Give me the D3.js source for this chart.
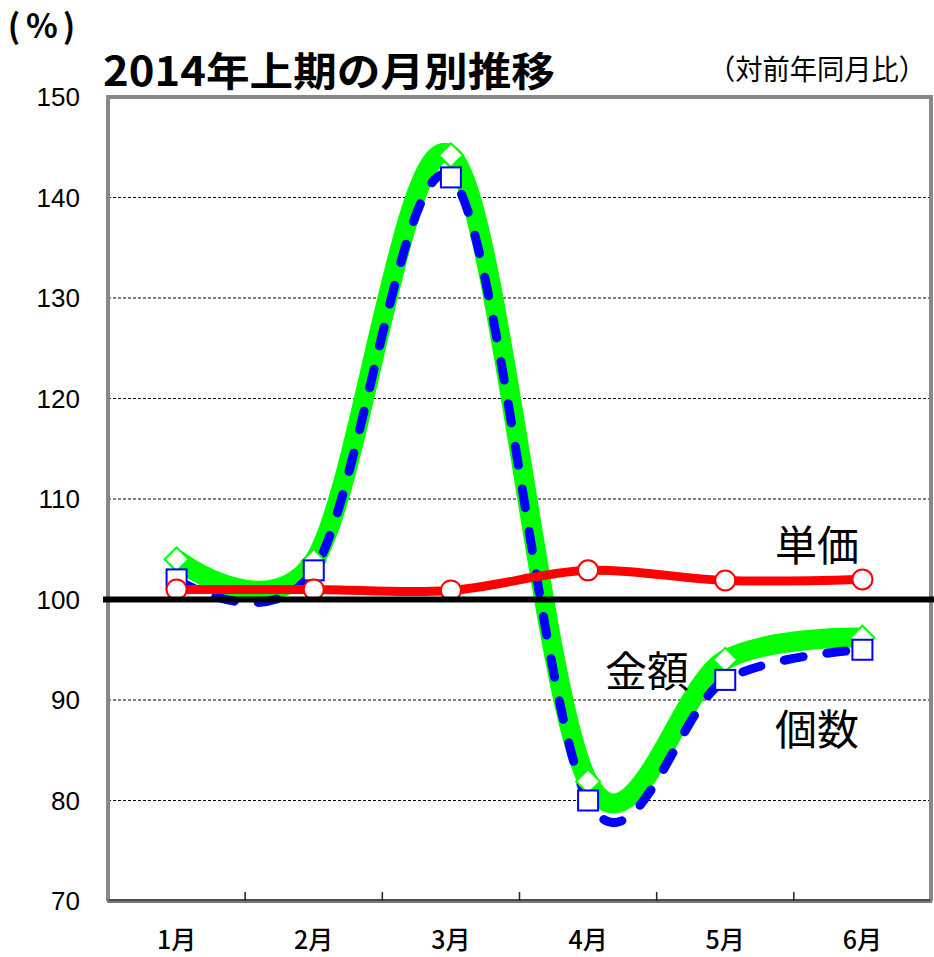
<!DOCTYPE html>
<html>
<head>
<meta charset="utf-8">
<script src="https://cdn.jsdelivr.net/npm/d3@7"></script>
<style>
  body { margin: 0; background: #fff; }
  text { font-family: "Noto Sans CJK JP", sans-serif; }
</style>
</head>
<body>
<div id="chart"></div>
<script>
// data
var months = ["1月", "2月", "3月", "4月", "5月", "6月"];
var kingaku = [104, 103.8, 144.2, 81.9, 94, 96.2];   // 金額 (green)
var kosuu   = [102, 102.9, 142, 80, 92, 95];         // 個数 (blue dashed)
var tanka   = [101, 101, 100.9, 102.9, 101.9, 102];  // 単価 (red)
var yTicks  = [70, 80, 90, 100, 110, 120, 130, 140, 150];

var width = 934, height = 957;
var plotL = 108, plotR = 931, plotT = 97, plotB = 901;

var svg = d3.select("#chart").append("svg")
    .attr("width", width)
    .attr("height", height);

var x = d3.scaleBand().domain(months).range([plotL, plotR]);
var y = d3.scaleLinear().domain([70, 150]).range([plotB, plotT]);
var cx = function(i) { return x(months[i]) + x.bandwidth() / 2; };

// grid lines
svg.selectAll(".grid")
    .data(yTicks.filter(function(d) { return d != 70 && d != 150 && d != 100; }))
    .enter().append("line")
    .attr("x1", plotL).attr("x2", plotR)
    .attr("y1", d => y(d)).attr("y2", d => y(d))
    .attr("stroke", "#000")
    .attr("stroke-width", 1)
    .attr("stroke-dasharray", "3,2");

// frame
svg.append("path")
    .attr("d", "M" + plotL + "," + plotB + "V" + plotT + "H" + plotR + "V" + plotB)
    .attr("fill", "none")
    .attr("stroke", "#888")
    .attr("stroke-width", 4);
svg.append("line")
    .attr("x1", plotL - 1).attr("x2", plotR + 1)
    .attr("y1", plotB).attr("y2", plotB)
    .attr("stroke", "#777").attr("stroke-width", 4);
svg.append("line")
    .attr("x1", plotL + 1).attr("x2", plotR - 1)
    .attr("y1", plotB - 1).attr("y2", plotB - 1)
    .attr("stroke", "#222").attr("stroke-width", 1);

// x tick marks (between categories)
svg.selectAll(".xtick")
    .data(months.slice(1))
    .enter().append("line")
    .attr("x1", d => x(d)).attr("x2", d => x(d))
    .attr("y1", plotB - 9).attr("y2", plotB)
    .attr("stroke", "#222").attr("stroke-width", 1.5);

// y tick labels
svg.selectAll(".ylab")
    .data(yTicks)
    .enter().append("text")
    .attr("x", 80)
    .attr("y", d => y(d))
    .attr("dy", "0.36em")
    .attr("text-anchor", "end")
    .style("font-family", "'Liberation Sans Narrow', 'Liberation Sans', sans-serif")
    .style("font-size", "26px")
    .text(d => d);

// x labels
svg.selectAll(".xlab")
    .data(months)
    .enter().append("text")
    .attr("x", d => x(d) + x.bandwidth() / 2)
    .attr("y", 949)
    .attr("text-anchor", "middle")
    .style("font-size", "25px")
    .style("font-weight", 500)
    .text(d => d);

var line = d3.line()
    .x(function(d, i) { return cx(i); })
    .y(function(d) { return y(d); })
    .curve(d3.curveCardinal.tension(0));

svg.append("path")
    .attr("d", line(kingaku))
    .attr("fill", "none")
    .attr("stroke", "#00ff00")
    .attr("stroke-width", 20)
    .attr("stroke-linejoin", "round");

svg.append("path")
    .attr("d", line(kosuu))
    .attr("fill", "none")
    .attr("stroke", "#0000ff")
    .attr("stroke-width", 9)
    .attr("stroke-linecap", "round")
    .attr("stroke-dasharray", "19,24");

svg.append("path")
    .attr("d", line(tanka))
    .attr("fill", "none")
    .attr("stroke", "#ff0000")
    .attr("stroke-width", 9);

// markers
svg.selectAll(".dia")
    .data(kingaku)
    .enter().append("path")
    .attr("d", function(d, i) {
        var px = cx(i), py = y(d), r = 12;
        return "M" + px + "," + (py - r) + "L" + (px + r) + "," + py + "L" + px + "," + (py + r) + "L" + (px - r) + "," + py + "Z";
    })
    .attr("fill", "#fff")
    .attr("stroke", "#00ff00")
    .attr("stroke-width", 2);

svg.selectAll(".sq")
    .data(kosuu)
    .enter().append("rect")
    .attr("x", (d, i) => cx(i) - 10)
    .attr("y", d => y(d) - 10)
    .attr("width", 20).attr("height", 20)
    .attr("fill", "#fff")
    .attr("stroke", "#0000ff")
    .attr("stroke-width", 2);

svg.selectAll(".circ")
    .data(tanka)
    .enter().append("circle")
    .attr("cx", (d, i) => cx(i))
    .attr("cy", d => y(d))
    .attr("r", 10)
    .attr("fill", "#fff")
    .attr("stroke", "#ff0000")
    .attr("stroke-width", 2);

// 100 line
svg.append("line")
    .attr("x1", 103).attr("x2", width)
    .attr("y1", y(100)).attr("y2", y(100))
    .attr("stroke", "#000")
    .attr("stroke-width", 6);

// titles
svg.append("text")
    .attr("x", "14 42 69").attr("y", 38)
    .attr("text-anchor", "middle")
    .style("font-size", "33px")
    .style("font-weight", "bold")
    .text("(%)");

svg.append("text")
    .attr("x", 103).attr("y", 86)
    .attr("textLength", 452)
    .attr("lengthAdjust", "spacingAndGlyphs")
    .style("font-size", "40px")
    .style("font-weight", "bold")
    .text("2014年上期の月別推移");

svg.append("text")
    .attr("x", 708).attr("y", 80)
    .attr("textLength", 218)
    .attr("lengthAdjust", "spacingAndGlyphs")
    .style("font-size", "28px")
    .text("（対前年同月比）");

// series labels
var labels = [
    {t: "単価", x: 817, y: 546},
    {t: "金額", x: 647, y: 672},
    {t: "個数", x: 817, y: 730}
];
svg.selectAll(".slab")
    .data(labels)
    .enter().append("text")
    .attr("x", d => d.x).attr("y", d => d.y)
    .attr("dy", "0.36em")
    .attr("text-anchor", "middle")
    .style("font-size", "42px")
    .text(d => d.t);
</script>
</body>
</html>
